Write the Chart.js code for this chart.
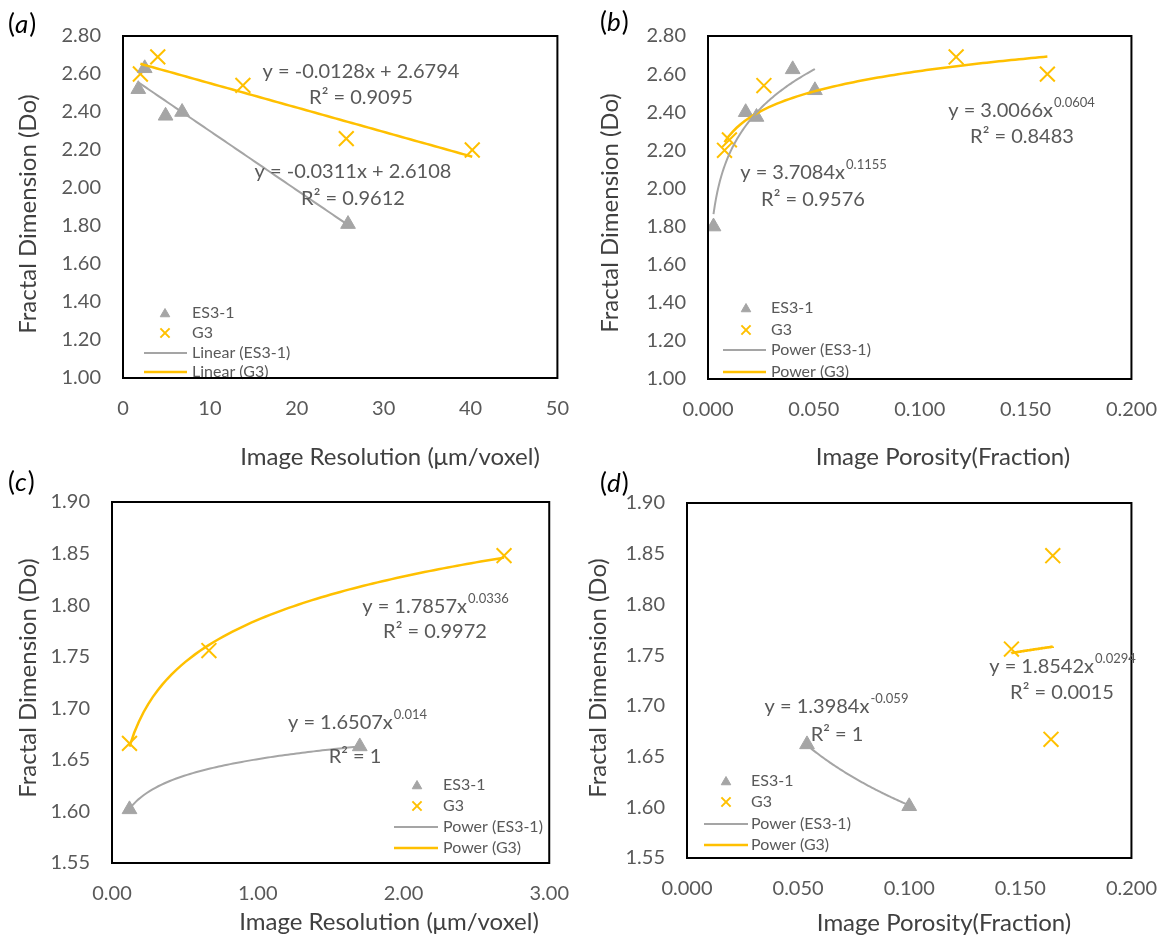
<!DOCTYPE html>
<html>
<head>
<meta charset="utf-8">
<script src="https://cdn.jsdelivr.net/npm/chart.js@4.4.1/dist/chart.umd.min.js"></script>
<style>
  body { margin: 0; background: #fff; width: 1176px; height: 937px; position: relative; overflow: hidden; }
  canvas { position: absolute; }
</style>
</head>
<body>
<canvas id="pa" width="588" height="470" style="left:0;top:0"></canvas>
<canvas id="pb" width="596" height="470" style="left:580px;top:0"></canvas>
<canvas id="pc" width="588" height="471" style="left:0;top:466px"></canvas>
<canvas id="pd" width="596" height="471" style="left:580px;top:466px"></canvas>
<script>
// ---- data ----
// (a) resolution vs Do
const resA_es = [1.76, 2.5, 4.9, 6.8, 25.9];
const fdA_es  = [2.52, 2.63, 2.38, 2.40, 1.81];
const resA_g3 = [2.0, 4.0, 13.8, 25.7, 40.2];
const fdA_g3  = [2.60, 2.69, 2.54, 2.26, 2.20];
// (b) porosity vs Do
const porB_es = [0.0026, 0.0178, 0.0229, 0.0400, 0.0505];
const fdB_es  = [1.80, 2.40, 2.375, 2.625, 2.515];
const porB_g3 = [0.0078, 0.0101, 0.0264, 0.1172, 0.1603];
const fdB_g3  = [2.20, 2.255, 2.54, 2.69, 2.60];
// (c) resolution vs Do
const resC_es = [0.12, 1.70];
const fdC_es  = [1.602, 1.663];
const resC_g3 = [0.12, 0.665, 2.69];
const fdC_g3  = [1.666, 1.756, 1.848];
// (d) porosity vs Do
const porD_es = [0.054, 0.100];
const fdD_es  = [1.662, 1.601];
const porD_g3 = [0.146, 0.1646, 0.1638];
const fdD_g3  = [1.756, 1.848, 1.667];

// trendline coefficients as printed on the chart
const linA_es = [-0.0311, 2.6108], linA_g3 = [-0.0128, 2.6794];
const powB_es = [3.7084, 0.1155],  powB_g3 = [3.0066, 0.0604];
const powC_es = [1.6507, 0.014],   powC_g3 = [1.7857, 0.0336];
const powD_es = [1.3984, -0.059],  powD_g3 = [1.8542, 0.0294];

// equation labels [text, superscript]
const eqA = [['y = -0.0128x + 2.6794', ''], ['R² = 0.9095', ''], ['y = -0.0311x + 2.6108', ''], ['R² = 0.9612', '']];
const eqB = [['y = 3.0066x', '0.0604'], ['R² = 0.8483', ''], ['y = 3.7084x', '0.1155'], ['R² = 0.9576', '']];
const eqC = [['y = 1.7857x', '0.0336'], ['R² = 0.9972', ''], ['y = 1.6507x', '0.014'], ['R² = 1', '']];
const eqD = [['y = 1.8542x', '0.0294'], ['R² = 0.0015', ''], ['y = 1.3984x', '-0.059'], ['R² = 1', '']];

// ticks
const yTicksAB = [1.00, 1.20, 1.40, 1.60, 1.80, 2.00, 2.20, 2.40, 2.60, 2.80];
const yTicksCD = [1.55, 1.60, 1.65, 1.70, 1.75, 1.80, 1.85, 1.90];
const xTicksA = [0, 10, 20, 30, 40, 50];
const xTicksPor = [0, 0.05, 0.10, 0.15, 0.20];
const xTicksC = [0, 1, 2, 3];

const legendLin = ['ES3-1', 'G3', 'Linear (ES3-1)', 'Linear (G3)'];
const legendPow = ['ES3-1', 'G3', 'Power (ES3-1)', 'Power (G3)'];

// ---- styling ----
const GRAY = '#A5A5A5', GOLD = '#FFC000', TXT = '#595959', TITLE = '#404040';
const FAM = 'Lato, "Open Sans", sans-serif';

const zip = (xs, ys) => xs.map((x, i) => ({x: x, y: ys[i]}));
const lin = c => x => c[0] * x + c[1];
const pow = c => x => c[0] * Math.pow(x, c[1]);
function trend(fn, xs) {
  const lo = Math.min(...xs), hi = Math.max(...xs), out = [];
  for (let i = 0; i <= 80; i++) {
    const x = lo + (hi - lo) * i / 80;
    out.push({x: x, y: fn(x)});
  }
  return out;
}

function drawEq(ctx, e, cx, cy) {
  const main = '20px ' + FAM, sup = '13px ' + FAM;
  ctx.font = main; const w = ctx.measureText(e[0]).width;
  ctx.font = sup; const ws = e[1] ? ctx.measureText(e[1]).width : 0;
  const x = cx - (w + ws) / 2;
  ctx.textAlign = 'left'; ctx.textBaseline = 'middle'; ctx.fillStyle = TXT;
  ctx.font = main; ctx.fillText(e[0], x, cy);
  if (e[1]) { ctx.font = sup; ctx.fillText(e[1], x + w + 1, cy - 8); }
}

function decor(p) {
  return {
    id: 'decor',
    afterDraw(chart) {
      const ctx = chart.ctx, a = chart.chartArea;
      // legend inside the plot
      ctx.save();
      ctx.translate(-p.ox, -p.oy);
      const L = p.legend;
      ctx.font = '16px ' + FAM; ctx.fillStyle = TXT; ctx.textAlign = 'left'; ctx.textBaseline = 'middle';
      p.legendText.forEach((t, i) => ctx.fillText(t, L.text, L.rows[i]));
      ctx.fillStyle = GRAY; ctx.strokeStyle = GRAY; ctx.lineWidth = 1;
      Chart.helpers.drawPoint(ctx, {pointStyle: 'triangle', radius: 5.5, borderWidth: 1}, L.mark, L.rows[0] + 1);
      ctx.strokeStyle = GOLD; ctx.lineWidth = 2;
      Chart.helpers.drawPoint(ctx, {pointStyle: 'crossRot', radius: 6.5, borderWidth: 2}, L.mark, L.rows[1]);
      ctx.lineWidth = 2; ctx.strokeStyle = GRAY;
      ctx.beginPath(); ctx.moveTo(L.line[0], L.rows[2]); ctx.lineTo(L.line[1], L.rows[2]); ctx.stroke();
      ctx.lineWidth = 2.5; ctx.strokeStyle = GOLD;
      ctx.beginPath(); ctx.moveTo(L.line[0], L.rows[3]); ctx.lineTo(L.line[1], L.rows[3]); ctx.stroke();
      ctx.restore();
      // plot frame
      ctx.save();
      ctx.strokeStyle = '#000'; ctx.lineWidth = 2;
      ctx.strokeRect(a.left, a.top, a.right - a.left, a.bottom - a.top);
      ctx.restore();
      ctx.save();
      ctx.translate(-p.ox, -p.oy);
      // equations
      p.eq.forEach((e, i) => drawEq(ctx, e, p.eqPos[i][0], p.eqPos[i][1]));
      // axis titles
      ctx.fillStyle = TITLE; ctx.font = '24px ' + FAM; ctx.textAlign = 'center'; ctx.textBaseline = 'middle';
      ctx.fillText(p.xTitle, p.xTitlePos[0], p.xTitlePos[1]);
      ctx.save();
      ctx.translate(p.yTitlePos[0], p.yTitlePos[1]); ctx.rotate(-Math.PI / 2);
      ctx.fillText('Fractal Dimension (Do)', 0, 0);
      ctx.restore();
      // panel letter
      ctx.fillStyle = '#000'; ctx.textAlign = 'left';
      let x = p.tag[0];
      ctx.font = '26px ' + FAM; ctx.fillText('(', x, p.tag[1]); x += ctx.measureText('(').width;
      ctx.font = 'italic 26px ' + FAM; ctx.fillText(p.tagChar, x, p.tag[1]); x += ctx.measureText(p.tagChar).width + 1;
      ctx.font = '26px ' + FAM; ctx.fillText(')', x, p.tag[1]);
      ctx.restore();
    }
  };
}

function panel(id, p) {
  const cv = document.getElementById(id);
  const W = cv.width, H = cv.height;
  const area = {l: p.area[0] - p.ox, t: p.area[1] - p.oy, r: p.area[2] - p.ox, b: p.area[3] - p.oy};
  const tickFont = {family: FAM, size: 20};
  new Chart(cv, {
    type: 'scatter',
    data: {
      datasets: [
        {data: trend(p.fnEs, p.xEs), showLine: true, borderColor: GRAY, borderWidth: 2, pointRadius: 0},
        {data: trend(p.fnG3, p.xG3), showLine: true, borderColor: GOLD, borderWidth: 2.5, pointRadius: 0},
        {data: zip(p.xEs, p.yEs), pointStyle: 'triangle', pointRadius: 8.5, backgroundColor: GRAY, borderColor: GRAY, borderWidth: 1},
        {data: zip(p.xG3, p.yG3), pointStyle: 'crossRot', pointRadius: 10.5, borderColor: GOLD, borderWidth: 2}
      ]
    },
    options: {
      responsive: false, animation: false, devicePixelRatio: 1,
      layout: {autoPadding: false, padding: {left: 0, top: area.t, right: W - area.r, bottom: 0}},
      plugins: {legend: {display: false}, tooltip: {enabled: false}},
      scales: {
        x: {
          type: 'linear', min: p.xTicks[0], max: p.xTicks[p.xTicks.length - 1],
          afterFit: s => { s.height = H - area.b; },
          afterBuildTicks: s => { s.ticks = p.xTicks.map(v => ({value: v})); },
          grid: {display: false, drawTicks: false}, border: {display: false},
          ticks: {padding: 19, color: TXT, font: tickFont, maxRotation: 0, autoSkip: false,
                  callback: v => v.toFixed(p.xDigits)}
        },
        y: {
          type: 'linear', min: p.yTicks[0], max: p.yTicks[p.yTicks.length - 1],
          afterFit: s => { s.width = area.l; },
          afterBuildTicks: s => { s.ticks = p.yTicks.map(v => ({value: v})); },
          grid: {display: false, drawTicks: false}, border: {display: false},
          ticks: {padding: 22, color: TXT, font: tickFont, autoSkip: false,
                  callback: v => v.toFixed(2)}
        }
      }
    },
    plugins: [decor(p)]
  });
}

panel('pa', {
  ox: 0, oy: 0, area: [123, 36, 573, 378],
  xEs: resA_es, yEs: fdA_es, xG3: resA_g3, yG3: fdA_g3,
  fnEs: lin(linA_es), fnG3: lin(linA_g3),
  xTicks: xTicksA, xDigits: 0, yTicks: yTicksAB,
  eq: eqA, eqPos: [[361, 72], [361, 98], [353, 172], [353, 199]],
  legendText: legendLin, legend: {mark: 165, line: [144, 187], text: 192, rows: [313, 333, 353, 372]},
  xTitle: 'Image Resolution (μm/voxel)', xTitlePos: [390, 457], yTitlePos: [28, 214],
  tag: [8, 25], tagChar: 'a'
});
panel('pb', {
  ox: 580, oy: 0, area: [708, 36, 1144, 379],
  xEs: porB_es, yEs: fdB_es, xG3: porB_g3, yG3: fdB_g3,
  fnEs: pow(powB_es), fnG3: pow(powB_g3),
  xTicks: xTicksPor, xDigits: 3, yTicks: yTicksAB,
  eq: eqB, eqPos: [[1021, 111], [1022, 137], [813, 173], [813, 200]],
  legendText: legendPow, legend: {mark: 746, line: [723, 766], text: 771, rows: [308, 330, 350, 372]},
  xTitle: 'Image Porosity(Fraction)', xTitlePos: [943, 457], yTitlePos: [610, 213],
  tag: [600, 23], tagChar: 'b'
});
panel('pc', {
  ox: 0, oy: 466, area: [112, 502, 558, 863],
  xEs: resC_es, yEs: fdC_es, xG3: resC_g3, yG3: fdC_g3,
  fnEs: pow(powC_es), fnG3: pow(powC_g3),
  xTicks: xTicksC, xDigits: 2, yTicks: yTicksCD,
  eq: eqC, eqPos: [[435, 607], [435, 632], [357, 723], [355, 757]],
  legendText: legendPow, legend: {mark: 417, line: [394, 438], text: 443, rows: [785, 806, 827, 848]},
  xTitle: 'Image Resolution (μm/voxel)', xTitlePos: [389, 922], yTitlePos: [28, 678],
  tag: [8, 483], tagChar: 'c'
});
panel('pd', {
  ox: 580, oy: 466, area: [687, 503, 1140, 858],
  xEs: porD_es, yEs: fdD_es, xG3: porD_g3, yG3: fdD_g3,
  fnEs: pow(powD_es), fnG3: pow(powD_g3),
  xTicks: xTicksPor, xDigits: 3, yTicks: yTicksCD,
  eq: eqD, eqPos: [[1062, 667], [1062, 693], [836, 707], [837, 735]],
  legendText: legendPow, legend: {mark: 726, line: [704, 748], text: 751, rows: [781, 802, 824, 845]},
  xTitle: 'Image Porosity(Fraction)', xTitlePos: [944, 923], yTitlePos: [598, 678],
  tag: [600, 484], tagChar: 'd'
});
</script>
</body>
</html>
